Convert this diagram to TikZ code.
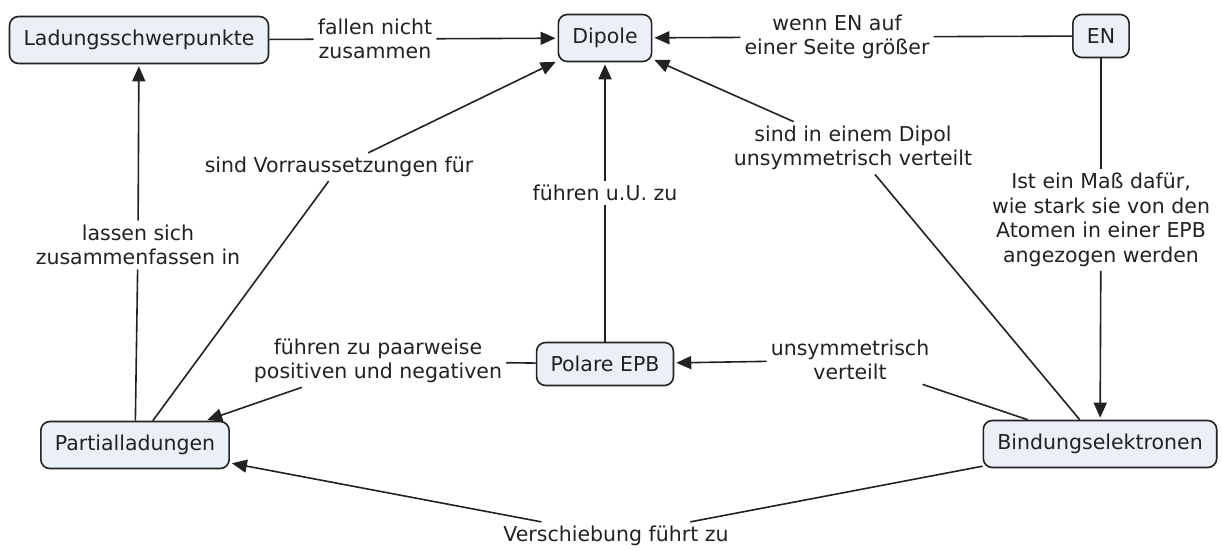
\documentclass[tikz,border=0pt]{standalone}
\usepackage{fontspec}
\setmainfont{DejaVu Sans}
\usetikzlibrary{arrows.meta}
\definecolor{nodefill}{HTML}{EAF0F5}
\definecolor{ink}{HTML}{222222}
\begin{document}
\begin{tikzpicture}[x=1pt,y=-1pt,
  concept/.style={draw=ink, line width=1.6pt, fill=nodefill, rounded corners=9pt,
    inner xsep=14pt, inner ysep=0pt, minimum height=47pt,
    font=\fontsize{20.5}{24.5}\selectfont, text=ink},
  phrase/.style={align=center, inner sep=4pt,
    font=\fontsize{20.5}{24.5}\selectfont, text=ink},
  link/.style={draw=ink, line width=1.6pt},
  arrowlink/.style={link, shorten >=2pt, -{Triangle[length=15pt,width=13pt]}}]
\useasboundingbox[fill=white] (0,0) rectangle (1222,550);

% concepts
\node[concept] (ls) at (139,40) {Ladungsschwerpunkte};
\node[concept] (dip) at (605,38) {Dipole};
\node[concept, minimum height=43pt] (en) at (1101,36) {EN};
\node[concept, minimum height=43pt] (pol) at (605,364) {Polare EPB};
\node[concept] (par) at (135,445) {Partialladungen};
\node[concept] (bin) at (1100,444) {Bindungselektronen};

% linking phrases
\node[phrase] (p1) at (375,39) {fallen nicht\\zusammen};
\node[phrase] (p2) at (837,37) {wenn EN auf\\einer Seite größer};
\node[phrase] (p3) at (339,167) {sind Vorraussetzungen für};
\node[phrase] (p4) at (605,193) {führen u.U. zu};
\node[phrase] (p5) at (853,148) {sind in einem Dipol\\unsymmetrisch verteilt};
\node[phrase] (p6) at (1101,220) {Ist ein Maß dafür,\\wie stark sie von den\\Atomen in einer EPB\\angezogen werden};
\node[phrase] (p7) at (138,245) {lassen sich\\zusammenfassen in};
\node[phrase] (p8) at (378,361) {führen zu paarweise\\positiven und negativen};
\node[phrase] (p9) at (850,360) {unsymmetrisch\\verteilt};
\node[phrase] (p10) at (616,536) {Verschiebung führt zu};

% connectors
\draw[link] (ls) -- (p1);
\draw[arrowlink] (p1) -- (dip);
\draw[link] (en) -- (p2);
\draw[arrowlink] (p2) -- (dip);
\draw[link] (par) -- (p3);
\draw[arrowlink] (p3) -- (dip);
\draw[link] (pol) -- (p4);
\draw[arrowlink] (p4) -- (dip);
\draw[link] (bin) -- (p5);
\draw[arrowlink] (p5) -- (dip);
\draw[link] (en) -- (p6);
\draw[arrowlink] (p6) -- (bin);
\draw[link] (par) -- (p7);
\draw[arrowlink] (p7) -- (ls);
\draw[link] (pol) -- (p8);
\draw[arrowlink] (p8) -- (par);
\draw[link] (bin) -- (p9);
\draw[arrowlink] (p9) -- (pol);
\draw[link] (bin) -- (p10);
\draw[arrowlink] (p10) -- (par);
\end{tikzpicture}
\end{document}
